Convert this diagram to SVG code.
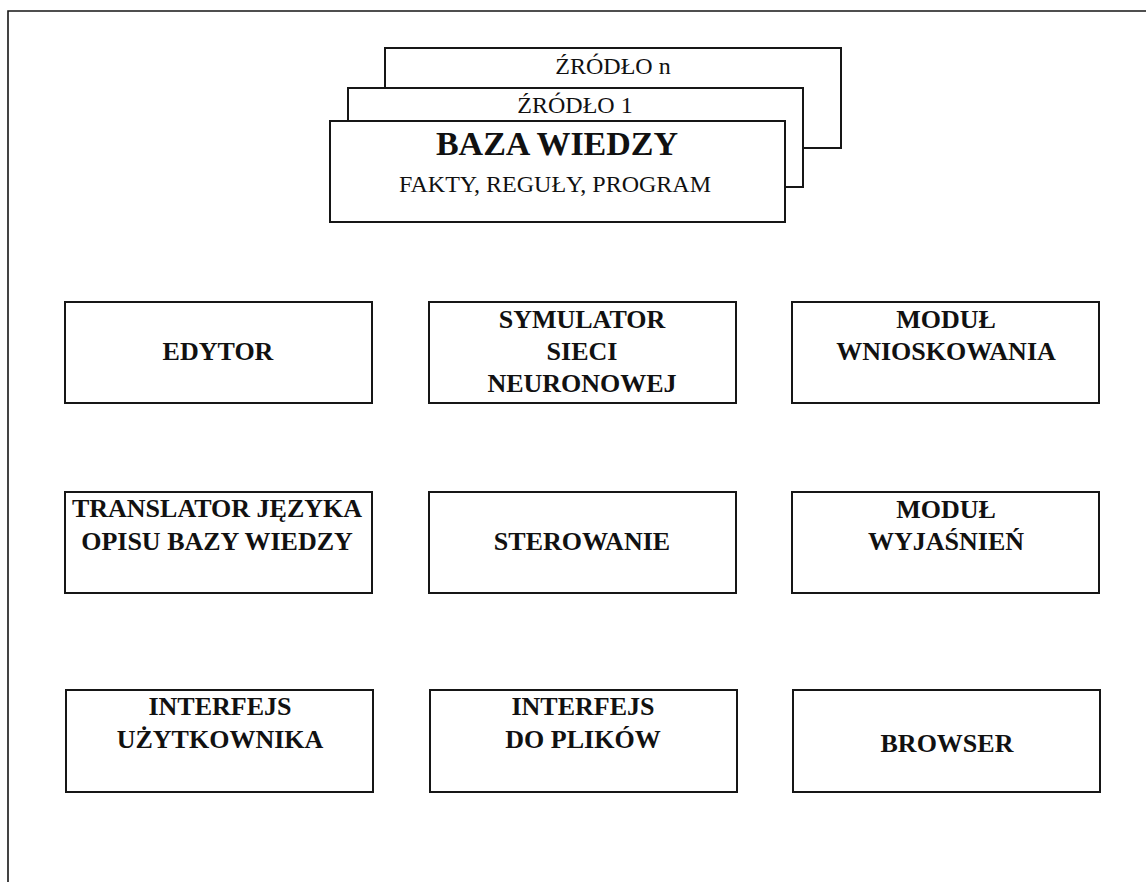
<svg xmlns="http://www.w3.org/2000/svg" width="1146" height="882" viewBox="0 0 1146 882">
<style>
.box{fill:#fff;stroke:#161616;stroke-width:2}
.b{font-family:"Liberation Serif","Times New Roman",serif;font-weight:bold;font-size:26px;fill:#111;text-anchor:middle}
.r{font-family:"Liberation Serif","Times New Roman",serif;font-size:24px;fill:#111;text-anchor:middle}
.frame{fill:none;stroke:#161616;stroke-width:1.6}
</style>
<rect width="1146" height="882" fill="#fff"/>
<path class="frame" d="M8,882 V11 H1146"/>
<g id="zrodlo-n"><rect class="box" x="385" y="48" width="456" height="100"/><text class="r" x="613" y="74">ŹRÓDŁO n</text></g>
<g id="zrodlo-1"><rect class="box" x="348" y="88" width="455" height="99"/><text class="r" x="575" y="113">ŹRÓDŁO 1</text></g>
<g id="baza-wiedzy"><rect class="box" x="330" y="121" width="455" height="101"/><text class="b" style="font-size:34px" x="557" y="155">BAZA WIEDZY</text><text class="r" x="555" y="192">FAKTY, REGUŁY, PROGRAM</text></g>
<g id="edytor"><rect class="box" x="65" y="302" width="307" height="101"/><text class="b" x="218" y="360">EDYTOR</text></g>
<g id="symulator"><rect class="box" x="429" y="302" width="307" height="101"/><text class="b" x="582" y="328">SYMULATOR</text><text class="b" x="582" y="360">SIECI</text><text class="b" x="582" y="392">NEURONOWEJ</text></g>
<g id="modul-wnioskowania"><rect class="box" x="792" y="302" width="307" height="101"/><text class="b" x="946" y="328">MODUŁ</text><text class="b" x="946" y="360">WNIOSKOWANIA</text></g>
<g id="translator"><rect class="box" x="65" y="492" width="307" height="101"/><text class="b" x="217" y="517">TRANSLATOR JĘZYKA</text><text class="b" x="217" y="550">OPISU BAZY WIEDZY</text></g>
<g id="sterowanie"><rect class="box" x="429" y="492" width="307" height="101"/><text class="b" x="582" y="550">STEROWANIE</text></g>
<g id="modul-wyjasnien"><rect class="box" x="792" y="492" width="307" height="101"/><text class="b" x="946" y="518">MODUŁ</text><text class="b" x="946" y="550">WYJAŚNIEŃ</text></g>
<g id="interfejs-uzytkownika"><rect class="box" x="66" y="690" width="307" height="102"/><text class="b" x="220" y="715">INTERFEJS</text><text class="b" x="220" y="748">UŻYTKOWNIKA</text></g>
<g id="interfejs-pliki"><rect class="box" x="430" y="690" width="307" height="102"/><text class="b" x="583" y="715">INTERFEJS</text><text class="b" x="583" y="748">DO PLIKÓW</text></g>
<g id="browser"><rect class="box" x="793" y="690" width="307" height="102"/><text class="b" x="947" y="752">BROWSER</text></g>
<g id="connectors"></g>
</svg>
